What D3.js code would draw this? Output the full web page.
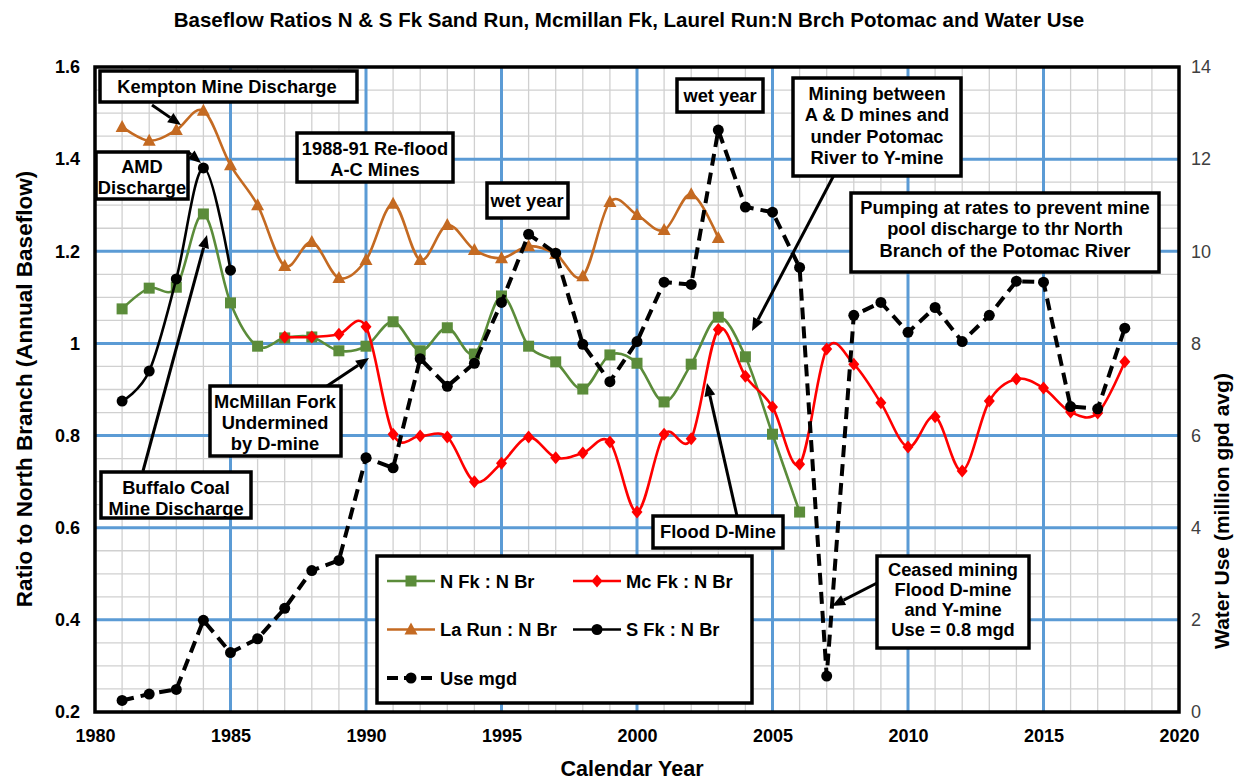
<!DOCTYPE html>
<html><head><meta charset="utf-8">
<script src="https://cdn.jsdelivr.net/npm/d3@7"></script>
<style>
body{margin:0;background:#fff}
text{font-family:"Liberation Sans",Arial,sans-serif}
</style>
</head><body>
<svg id="c" width="1238" height="781"></svg>
<script>
// ---------------- DATA ----------------
const nFkYears = d3.range(1981, 2007);
const nFk = [1.075,1.12,1.122,1.281,1.088,0.994,1.012,1.014,0.984,0.994,1.047,0.984,1.034,0.977,1.103,0.994,0.96,0.901,0.975,0.957,0.873,0.955,1.057,0.971,0.803,0.634];
const mcFkYears = d3.range(1987, 2019);
const mcFk = [1.014,1.014,1.02,1.036,0.803,0.799,0.797,0.70,0.74,0.797,0.752,0.762,0.786,0.634,0.803,0.793,1.03,0.929,0.862,0.738,0.988,0.955,0.871,0.775,0.841,0.723,0.875,0.923,0.903,0.851,0.849,0.96];
const laRunYears = d3.range(1981, 2004);
const laRun = [1.47,1.44,1.463,1.505,1.387,1.30,1.168,1.22,1.142,1.181,1.303,1.181,1.257,1.203,1.185,1.211,1.194,1.146,1.307,1.279,1.246,1.324,1.229];
const sFkYears = d3.range(1981, 1986);
const sFk = [0.875,0.94,1.14,1.381,1.159];
const useYears = d3.range(1981, 2019);
const useMgd = [0.25,0.39,0.49,1.99,1.29,1.59,2.25,3.07,3.29,5.52,5.30,7.67,7.07,7.57,8.89,10.37,9.96,7.98,7.17,8.04,9.33,9.28,12.63,10.96,10.85,9.65,0.78,8.61,8.89,8.24,8.78,8.04,8.61,9.35,9.33,6.63,6.58,8.33];

const xTicks = [1980,1985,1990,1995,2000,2005,2010,2015,2020];
const yLeftTicks = [0.2,0.4,0.6,0.8,1.0,1.2,1.4,1.6];
const yLeftLabels = ["0.2","0.4","0.6","0.8","1","1.2","1.4","1.6"];
const yRightTicks = [0,2,4,6,8,10,12,14];

const seriesNames = ["N Fk : N Br","Mc Fk : N Br","La Run : N Br","S Fk : N Br","Use mgd"];
const titleText = "Baseflow Ratios N & S Fk Sand Run, Mcmillan Fk, Laurel Run:N Brch Potomac and Water Use";
const xTitle = "Calendar Year";
const yLeftTitle = "Ratio to North Branch (Annual Baseflow)";
const yRightTitle = "Water Use (million gpd avg)";

// ---------------- LAYOUT ----------------
const L = 95, R = 1179, T = 67, B = 712;
const svg = d3.select("#c");
const x = d3.scaleLinear().domain([1980, 2020]).range([L, R]);
const y = d3.scaleLinear().domain([0.2, 1.6]).range([B, T]);
const y2 = d3.scaleLinear().domain([0, 14]).range([B, T]);

const C = {green:"#5b8c3a", red:"#ff0000", orange:"#c46a22", black:"#000", major:"#5b9bd5", minor:"#d0d0d0"};

// grid
const g = svg.append("g");
g.selectAll(".vmin").data(d3.range(1981, 2020).filter(v => v % 5)).join("line")
  .attr("x1", d => x(d)).attr("x2", d => x(d)).attr("y1", T).attr("y2", B)
  .attr("stroke", C.minor).attr("stroke-width", 1.3);
g.selectAll(".hmin").data(d3.range(0, 29).map(i => 0.2 + i * 0.05).filter((v, i) => i % 4)).join("line")
  .attr("x1", L).attr("x2", R).attr("y1", d => y(d)).attr("y2", d => y(d))
  .attr("stroke", C.minor).attr("stroke-width", 1.3);
g.selectAll(".vmaj").data(xTicks.slice(1, -1)).join("line")
  .attr("x1", d => x(d)).attr("x2", d => x(d)).attr("y1", T).attr("y2", B)
  .attr("stroke", C.major).attr("stroke-width", 3);
g.selectAll(".hmaj").data(yLeftTicks.slice(1, -1)).join("line")
  .attr("x1", L).attr("x2", R).attr("y1", d => y(d)).attr("y2", d => y(d))
  .attr("stroke", C.major).attr("stroke-width", 3);

// axes labels via d3 axes
const ax = svg.append("g").attr("transform", `translate(0,${B})`)
  .call(d3.axisBottom(x).tickValues(xTicks).tickFormat(d3.format("d")).tickSize(0).tickPadding(17));
ax.select(".domain").remove();
ax.selectAll("text").attr("font-size", 18).attr("font-weight", "bold").attr("fill", "#000")
  .style("font-family", '"Liberation Sans",Arial,sans-serif');

const ayl = svg.append("g").attr("transform", `translate(${L},0)`)
  .call(d3.axisLeft(y).tickValues(yLeftTicks).tickFormat((d, i) => yLeftLabels[i]).tickSize(0).tickPadding(15));
ayl.select(".domain").remove();
ayl.selectAll("text").attr("font-size", 18).attr("font-weight", "bold").attr("fill", "#000")
  .style("font-family", '"Liberation Sans",Arial,sans-serif');

const ayr = svg.append("g").attr("transform", `translate(${R},0)`)
  .call(d3.axisRight(y2).tickValues(yRightTicks).tickFormat(d3.format("d")).tickSize(0).tickPadding(12));
ayr.select(".domain").remove();
ayr.selectAll("text").attr("font-size", 18).attr("fill", "#404040")
  .style("font-family", '"Liberation Sans",Arial,sans-serif');

// titles
svg.append("text").attr("x", 629).attr("y", 27).attr("text-anchor", "middle")
  .attr("font-size", 20.5).attr("font-weight", "bold").text(titleText);
svg.append("text").attr("x", 632).attr("y", 776).attr("text-anchor", "middle")
  .attr("font-size", 21.5).attr("font-weight", "bold").text(xTitle);
svg.append("text").attr("transform", "translate(32,389) rotate(-90)").attr("text-anchor", "middle")
  .attr("font-size", 22.5).attr("font-weight", "bold").text(yLeftTitle);
svg.append("text").attr("transform", "translate(1229,511) rotate(-90)").attr("text-anchor", "middle")
  .attr("font-size", 21).attr("font-weight", "bold").text(yRightTitle);

// ---------------- SERIES ----------------
const smooth = d3.curveCardinal.tension(0);
function series(years, vals, ys, color, width, curve, dash) {
  const pts = years.map((yr, i) => [yr, vals[i]]);
  svg.append("path").datum(pts)
    .attr("d", d3.line().x(d => x(d[0])).y(d => ys(d[1])).curve(curve))
    .attr("fill", "none").attr("stroke", color).attr("stroke-width", width)
    .attr("stroke-dasharray", dash || null);
  return svg.append("g").selectAll("g").data(pts).join("g")
    .attr("transform", d => `translate(${x(d[0])},${ys(d[1])})`);
}
function marker(sel, kind, color) {
  if (kind === "square") sel.append("rect").attr("x", -5.5).attr("y", -5.5).attr("width", 11).attr("height", 11).attr("fill", color);
  if (kind === "diamond") sel.append("path").attr("d", "M0,-6.5L5.5,0L0,6.5L-5.5,0Z").attr("fill", color);
  if (kind === "triangle") sel.append("path").attr("d", "M0,-7L6.5,5L-6.5,5Z").attr("fill", color);
  if (kind === "circle") sel.append("circle").attr("r", 5.5).attr("fill", color);
}
marker(series(nFkYears, nFk, y, C.green, 2.6, smooth), "square", C.green);
marker(series(mcFkYears, mcFk, y, C.red, 2.6, smooth), "diamond", C.red);
marker(series(laRunYears, laRun, y, C.orange, 2.6, smooth), "triangle", C.orange);
marker(series(sFkYears, sFk, y, C.black, 2.6, smooth), "circle", C.black);
marker(series(useYears, useMgd, y2, C.black, 4, d3.curveLinear, "12,7"), "circle", C.black);

// plot border
svg.append("rect").attr("x", L).attr("y", T).attr("width", R - L).attr("height", B - T)
  .attr("fill", "none").attr("stroke", "#000").attr("stroke-width", 3.5);

// ---------------- ANNOTATIONS ----------------
function arrow(x1, y1, x2, y2) {
  const a = Math.atan2(y2 - y1, x2 - x1), len = 13, w = 5.5;
  const bx = x2 - len * Math.cos(a), by = y2 - len * Math.sin(a);
  svg.append("line").attr("x1", x1).attr("y1", y1).attr("x2", bx).attr("y2", by)
    .attr("stroke", "#000").attr("stroke-width", 3);
  svg.append("path").attr("d", `M${x2},${y2}L${bx + w * Math.sin(a)},${by - w * Math.cos(a)}L${bx - w * Math.sin(a)},${by + w * Math.cos(a)}Z`)
    .attr("fill", "#000");
}
function box(x0, y0, x1, y1, lines, cx, firstBase, lh, fs) {
  svg.append("rect").attr("x", x0).attr("y", y0).attr("width", x1 - x0).attr("height", y1 - y0)
    .attr("fill", "#fff").attr("stroke", "#000").attr("stroke-width", 3.5);
  const t = svg.append("text").attr("text-anchor", "middle").attr("font-size", fs || 18.3).attr("font-weight", "bold");
  lines.forEach((s, i) => t.append("tspan").attr("x", cx).attr("y", firstBase + i * lh).text(s));
}
arrow(152, 105, 181, 125);
arrow(188, 152, 201, 163);
arrow(143, 471, 207, 235);
arrow(327, 386, 369, 358);
arrow(834, 175, 752, 331);
arrow(737, 516, 707, 383);
arrow(877, 583, 832, 606);

box(100, 71, 357, 102, ["Kempton Mine Discharge"], 227, 93, 21);
box(96, 152, 188, 199, ["AMD", "Discharge"], 142, 173, 21);
box(297, 133, 453, 182, ["1988-91 Re-flood", "A-C Mines"], 375, 155, 21);
box(487, 183, 568, 218, ["wet year"], 527, 207, 21);
box(677, 79, 763, 112, ["wet year"], 720, 102, 21);
box(793, 78, 961, 176, ["Mining between", "A & D mines and", "under Potomac", "River to Y-mine"], 877, 100, 21.3);
box(851, 193, 1159, 272, ["Pumping at rates to prevent mine", "pool discharge to thr North", "Branch of the Potomac River"], 1005, 214, 21.3);
box(210, 386, 341, 456, ["McMillan Fork", "Undermined", "by D-mine"], 275, 408, 21);
box(101, 472, 251, 518, ["Buffalo Coal", "Mine Discharge"], 176, 494, 21);
box(653, 516, 783, 548, ["Flood D-Mine"], 718, 538, 21);
box(877, 556, 1029, 648, ["Ceased mining", "Flood D-mine", "and Y-mine", "Use = 0.8 mgd"], 953, 576, 20);

// ---------------- LEGEND ----------------
const lg = svg.append("g");
lg.append("rect").attr("x", 377).attr("y", 556).attr("width", 375).attr("height", 147)
  .attr("fill", "#fff").attr("stroke", "#000").attr("stroke-width", 3.5);
const legendItems = [
  {name: seriesNames[0], color: C.green, kind: "square", col: 0, row: 0},
  {name: seriesNames[1], color: C.red, kind: "diamond", col: 1, row: 0},
  {name: seriesNames[2], color: C.orange, kind: "triangle", col: 0, row: 1},
  {name: seriesNames[3], color: C.black, kind: "circle", col: 1, row: 1},
  {name: seriesNames[4], color: C.black, kind: "circle", col: 0, row: 2, dash: true}
];
legendItems.forEach(it => {
  const lx = it.col ? 573 : 387, ly = 581 + it.row * 48.5;
  lg.append("line").attr("x1", lx).attr("x2", lx + 48).attr("y1", ly).attr("y2", ly)
    .attr("stroke", it.color).attr("stroke-width", it.dash ? 4 : 2.6)
    .attr("stroke-dasharray", it.dash ? "11,6" : null);
  const m = lg.append("g").attr("transform", `translate(${lx + 24},${ly})`);
  marker(m, it.kind, it.color);
  lg.append("text").attr("x", lx + 53).attr("y", ly + 6.5).attr("font-size", 18.3).attr("font-weight", "bold").text(it.name);
});
</script>
</body></html>
